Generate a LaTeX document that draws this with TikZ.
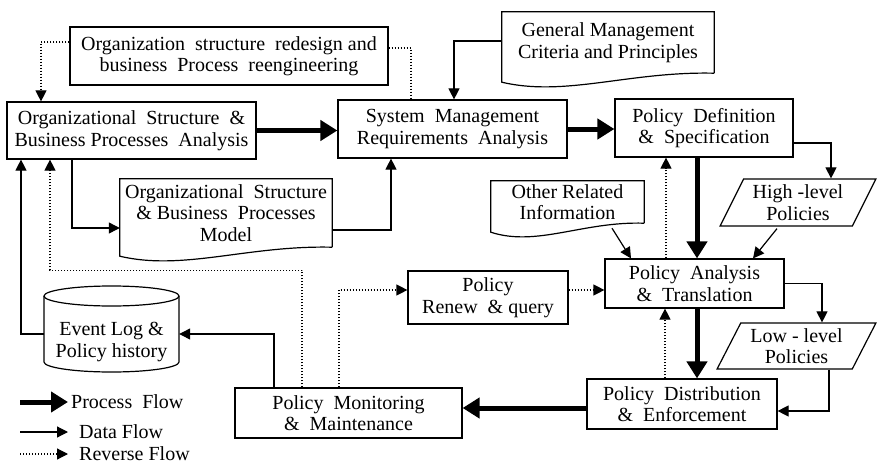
\documentclass[tikz,border=0pt]{standalone}
\usepackage{fontspec}
\setmainfont{Liberation Serif}
\usetikzlibrary{arrows.meta, positioning, calc, shapes.geometric}

% rectangle with a wavy lower edge (document symbol)
\newcommand{\docoutline}[1]{%
  \draw[line width=1.2pt] (#1.south east) -- (#1.north east) -- (#1.north west)
    -- ([yshift=-9pt]#1.south west)
    .. controls ($(#1.south west)!0.3!(#1.south east)+(0,-24)$)
    and ($(#1.south west)!0.6!(#1.south east)+(0,2)$) .. (#1.south east);}

\begin{document}
\begin{tikzpicture}[x=1pt, y=1pt,
  font=\fontsize{20}{21.5}\selectfont,
  box/.style={draw, line width=1.2pt, inner sep=1pt, align=center},
  doc/.style={inner sep=1pt, align=center},
  para/.style={draw, line width=1.2pt, trapezium, trapezium left angle=62,
    trapezium right angle=118, trapezium stretches=true, inner sep=1pt, align=center},
  procflow/.style={line width=5pt, -{Triangle[length=17pt, width=20pt]}},
  dataflow/.style={line width=1.2pt, -{Triangle[length=11pt, width=11pt]}},
  revline/.style={line width=1.2pt, dash pattern=on 1.3pt off 1.7pt},
  revflow/.style={revline, -{Triangle[length=11pt, width=11pt]}},
]
\useasboundingbox (0,0) rectangle (878,467);

% process boxes
\node[box, minimum width=318, minimum height=58] (redesign) at (229,411)
  {Organization\ \ structure\ \ redesign and\\business\ \ Process\ \ reengineering};
\node[box, minimum width=249, minimum height=57] (organa) at (131.5,336.5)
  {Organizational\ \ Structure\ \ \&\\Business Processes\ \ Analysis};
\node[box, minimum width=229, minimum height=58] (sysreq) at (452.5,338)
  {System\ \ Management\\Requirements\ \ Analysis};
\node[box, minimum width=178, minimum height=58] (poldef) at (704,339)
  {Policy\ \ Definition\\\&\ \ Specification};
\node[box, minimum width=179, minimum height=49] (polana) at (694.5,183.5)
  {Policy\ \ Analysis\\\&\ \ Translation};
\node[box, minimum width=160, minimum height=53] (polrenew) at (488,169.5)
  {Policy\\Renew\ \ \&\ query};
\node[box, minimum width=190, minimum height=50] (poldist) at (682,63)
  {Policy\ \ Distribution\\\&\ \ Enforcement};
\node[box, minimum width=227, minimum height=50] (polmon) at (348.5,54)
  {Policy\ \ Monitoring\\\&\ \ Maintenance};

% documents
\node[doc, minimum width=212, minimum height=61] (gencrit) at (608,424.5)
  {General Management\\Criteria and Principles};
\node[doc, minimum width=212, minimum height=68] (orgmodel) at (226,254)
  {Organizational\ \ Structure\\\& Business\ \ Processes\\Model};
\node[doc, minimum width=153, minimum height=42] (otherinfo) at (567.5,265)
  {Other Related\\Information};
\docoutline{gencrit}
\docoutline{orgmodel}
\docoutline{otherinfo}

% policies
\node[para, minimum width=156, minimum height=47] (highpol) at (798,264.5) {High -level\\Policies};
\node[para, minimum width=159, minimum height=46] (lowpol) at (796.5,121) {Low - level\\Policies};

% database
\node[align=center, minimum width=135, inner sep=1pt] (evlog) at (111.5,125) {Event Log \&\\Policy history};
\draw[line width=1.2pt] ($(evlog.center)+(-67.5,46)$) -- ($(evlog.center)+(-67.5,-20)$)
  arc[start angle=180, end angle=360, x radius=67.5, y radius=10] -- ($(evlog.center)+(67.5,46)$);
\draw[line width=1.2pt] ($(evlog.center)+(0,46)$) ellipse[x radius=67.5, y radius=10];

% process flow
\draw[procflow] (organa.east) -- (organa.east -| sysreq.west);
\draw[procflow] (sysreq.east) -- (sysreq.east -| poldef.west);
\draw[procflow] ([xshift=-7]poldef.south) -- ([xshift=-7]poldef.south |- polana.north);
\draw[procflow] ([xshift=2.5]polana.south) -- ([xshift=2.5]polana.south |- poldist.north);
\draw[procflow] ([yshift=-4]poldist.west) -- ([yshift=-4]poldist.west -| polmon.east);

% data flow
\draw[dataflow] ([yshift=1.5]gencrit.west) -| ([xshift=1.5]sysreq.north);
\draw[dataflow] ([yshift=-15]poldef.east) -| ([xshift=33]highpol.north);
\draw[dataflow] ([xshift=-59.5]organa.south) |- ([yshift=-15]orgmodel.west);
\draw[dataflow] ([yshift=-17]orgmodel.east) -| ([xshift=-61.5]sysreq.south);
\draw[dataflow] ([xshift=44.5,yshift=-5]otherinfo.south) -- ([xshift=-63.5]polana.north);
\draw[dataflow] ([xshift=-21,yshift=-2]highpol.south) -- ([xshift=58.5]polana.north);
\draw[dataflow] (polana.east) -| ([xshift=25.5]lowpol.north);
\draw[dataflow] ([xshift=32.5]lowpol.south) |- ([yshift=-7]poldist.east);
\draw[dataflow] ([xshift=-74.5]polmon.north) |- ([yshift=8]evlog.east);
\draw[dataflow] ([yshift=8]evlog.west) -| ([xshift=-110.5]organa.south);

% reverse flow
\draw[revflow] ([yshift=14]redesign.west) -| ([xshift=-90.5]organa.north);
\draw[revline] ([yshift=8]redesign.east) -| ([xshift=-41.5]sysreq.north);
\draw[revflow] ([xshift=-28.5]polana.north) -- ([xshift=-28.5]polana.north |- poldef.south);
\draw[revflow] ([xshift=-17]poldist.north) -- ([xshift=-17]poldist.north |- polana.south);
\draw[revflow] ([yshift=7.5]polrenew.east) -- ([yshift=7.5]polrenew.east -| polana.west);
\draw[revflow] ([xshift=-46.5]polmon.north) -- ++(0,117) -| ([xshift=-81.5]organa.south);
\draw[revflow] ([xshift=-9.5]polmon.north) |- ([yshift=7.5]polrenew.west);

% legend
\coordinate (lgproc) at (20,65);
\coordinate (lgdata) at (20,35);
\coordinate (lgrev) at (20,13);
\node[anchor=west, inner sep=3pt] (txtproc) at (68,65) {Process\ \ Flow};
\node[anchor=west, inner sep=2pt] (txtdata) at (77,35) {Data Flow};
\node[anchor=west, inner sep=2pt] (txtrev) at (77,13) {Reverse Flow};
\draw[procflow] (lgproc) -- (txtproc.west);
\draw[dataflow] (lgdata) -- ([xshift=-9]txtdata.west);
\draw[revflow] (lgrev) -- ([xshift=-9]txtrev.west);
\end{tikzpicture}
\end{document}
